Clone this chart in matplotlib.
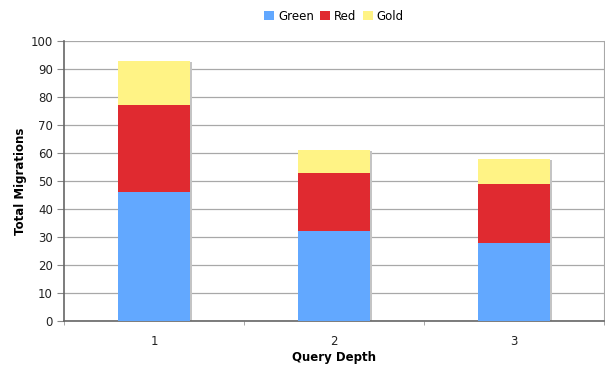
import matplotlib
matplotlib.use("Agg")
import matplotlib.pyplot as plt
import matplotlib.transforms as mtransforms
from matplotlib.patches import Patch
import numpy as np

categories = ["1", "2", "3"]
green = [46, 32, 28]
red = [31, 21, 21]
gold = [16, 8, 9]
series_names = ["Green", "Red", "Gold"]
colors = ["#62A8FF", "#E02A30", "#FFF385"]

plt.rcParams['font.family'] = ['DejaVu Sans']
fig = plt.figure(figsize=(6.05, 3.67), dpi=100)
ax = fig.add_axes([64/605, 1-321/367, 540/605, 280/367])

x = np.arange(len(categories))
w = 0.4
g = np.array(green); r = np.array(red); y = np.array(gold)
total = g + r + y

shadow_tr = ax.transData + mtransforms.ScaledTranslation(2/100, -1/100, fig.dpi_scale_trans)
ax.bar(x, total, w, color="#c4c4c4", transform=shadow_tr, zorder=2)
ax.bar(x, g, w, color=colors[0], zorder=3)
ax.bar(x, r, w, bottom=g, color=colors[1], zorder=3)
ax.bar(x, y, w, bottom=g + r, color=colors[2], zorder=3)

ax.set_xlim(-0.5, 2.5)
ax.set_ylim(0, 100)
ax.set_yticks(np.arange(0, 101, 10))
ax.set_xticks(x)
ax.set_xticklabels(categories)
ax.set_xticks([-0.5, 0.5, 1.5, 2.5], minor=True)
ax.tick_params(axis='x', which='major', length=0, pad=10, labelsize=8.5, colors='#222222')
ax.tick_params(axis='x', which='minor', length=3, color='#999999', direction='out')
ax.tick_params(axis='y', length=5, color='#888888', labelsize=8.5, labelcolor='#222222', pad=3)
ax.yaxis.grid(True, color='#a8a8a8', linewidth=0.9, zorder=0)
ax.set_axisbelow(True)
for s in ['left', 'bottom']:
    ax.spines[s].set_color('#666666')
    ax.spines[s].set_linewidth(1.2)
ax.spines['right'].set_color('#a8a8a8')
ax.spines['top'].set_visible(False)

ax.set_xlabel("Query Depth", fontsize=8.5, fontweight='bold', va='center')
ax.set_ylabel("Total Migrations", fontsize=8.5, fontweight='bold', va='center')
ax.xaxis.set_label_coords(0.5, (321 - 357) / 280)
ax.yaxis.set_label_coords((21 - 64) / 540, 0.5)

handles = [Patch(facecolor=c, edgecolor='none') for c in colors]
fig.legend(handles, series_names, loc='center', bbox_to_anchor=(334/605, 1-16/367),
           ncol=3, frameon=False, fontsize=8.5, handlelength=0.85, handleheight=0.85,
           handletextpad=0.3, columnspacing=0.55)

fig.savefig("out.png", dpi=100)
